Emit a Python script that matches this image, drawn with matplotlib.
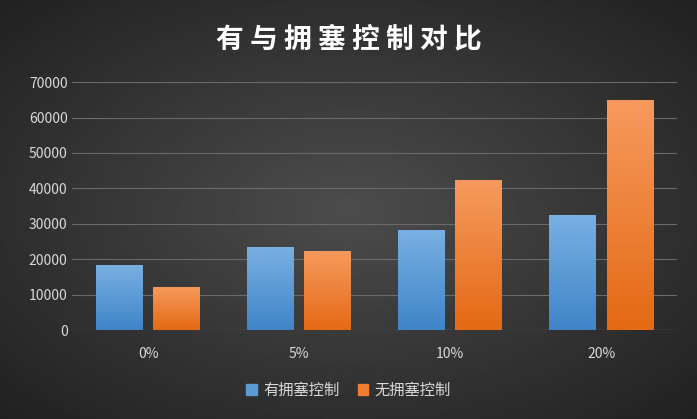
import numpy as np
import matplotlib.pyplot as plt
from matplotlib.patches import Patch

plt.rcParams['font.family'] = ['Noto Sans CJK SC', 'DejaVu Sans']

categories = ['0%', '5%', '10%', '20%']
with_cc = [18400, 23500, 28300, 32600]
without_cc = [12200, 22400, 42400, 65000]
series_names = ['有拥塞控制', '无拥塞控制']
title = '有 与 拥 塞 控 制 对 比'

fig = plt.figure(figsize=(6.97, 4.19), dpi=100)

# radial background
bg = fig.add_axes([0, 0, 1, 1])
yy, xx = np.mgrid[-1:1:200j, -1:1:300j]
r = np.sqrt(xx ** 2 + yy ** 2)
bg.imshow(0.30 - 0.12 * r, cmap='gray', vmin=0, vmax=1, aspect='auto', extent=[0, 1, 0, 1])
bg.axis('off')

ax = fig.add_axes([0.104, 0.212, 0.867, 0.592])
ax.patch.set_alpha(0)
x = np.arange(len(categories))
w = 0.31
b1 = ax.bar(x - 0.19, with_cc, w, color='#5b9bd5')
b2 = ax.bar(x + 0.19, without_cc, w, color='#ed7d31')

def grad(bars, top, bottom):
    for b in bars:
        g = np.linspace(0, 1, 100).reshape(-1, 1)
        cm = plt.matplotlib.colors.LinearSegmentedColormap.from_list('g', [top, bottom])
        im = ax.imshow(g, cmap=cm, aspect='auto', zorder=3,
                       extent=[b.get_x(), b.get_x() + b.get_width(), 0, b.get_height()])
        im.set_clip_path(b)

grad(b1, '#7ab0e3', '#3f85c8')
grad(b2, '#f79a5e', '#e46a14')

ax.set_xlim(-0.5, 3.5)
ax.set_ylim(0, 70000)
ax.set_yticks(range(0, 70001, 10000))
ax.set_xticks(x)
ax.set_xticklabels(categories)
ax.tick_params(colors='#d9d9d9', labelsize=10, length=0)
ax.tick_params(axis='x', pad=12)
ax.grid(axis='y', color='#6a6a6a', linewidth=0.8)
ax.set_axisbelow(True)
for s in ax.spines.values():
    s.set_visible(False)
ax.axhline(0, color='#8a8a8a', linewidth=0.8)

fig.text(0.5, 0.905, title, color='white', fontsize=20, fontweight='bold', ha='center', va='center')
fig.legend(handles=[Patch(color='#5b9bd5'), Patch(color='#ed7d31')], labels=series_names,
           loc='center', bbox_to_anchor=(0.5, 0.068), ncol=2, frameon=False,
           labelcolor='#d9d9d9', fontsize=11, handlelength=0.7, handleheight=0.7,
           columnspacing=1.2, handletextpad=0.4)

fig.savefig('out.png', dpi=100)
